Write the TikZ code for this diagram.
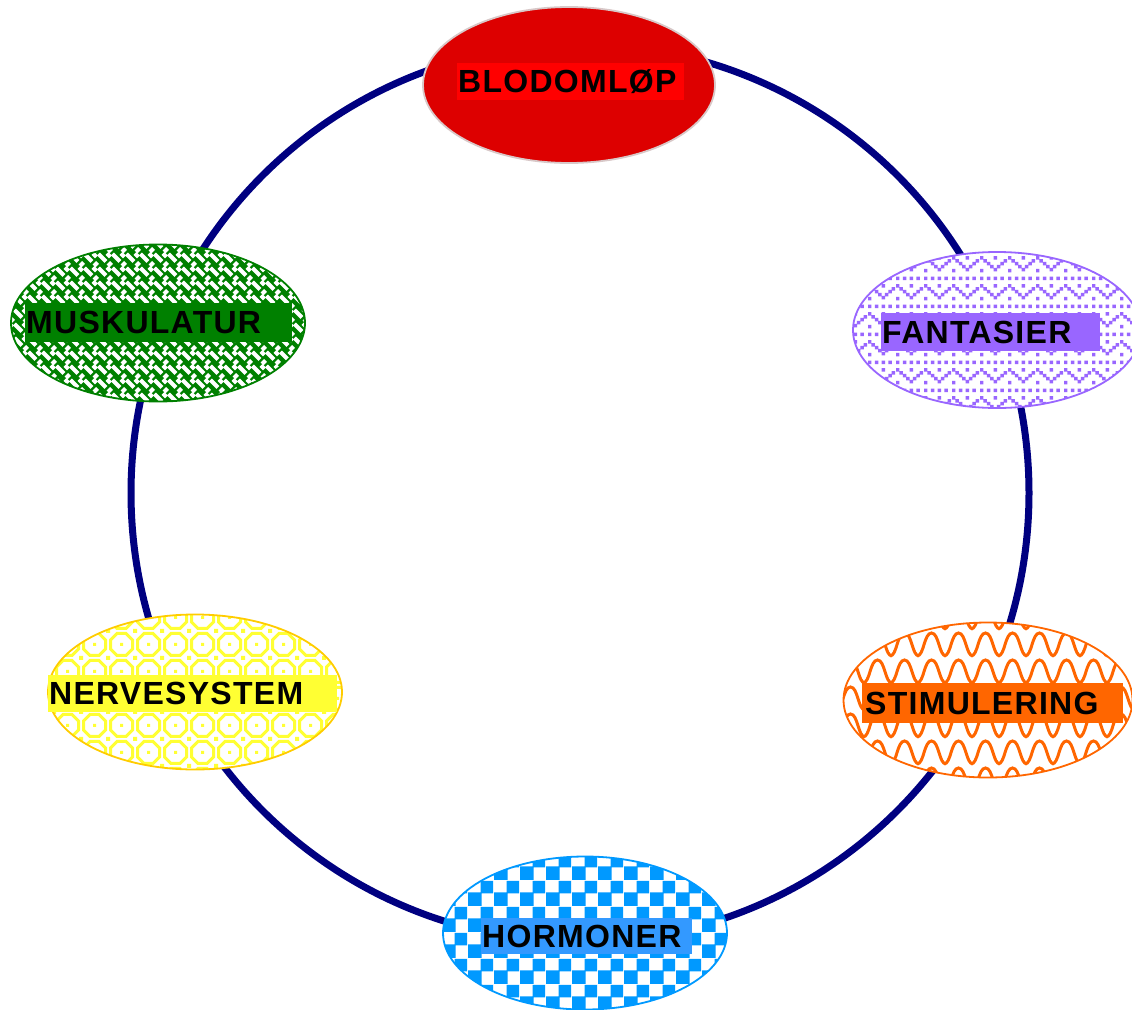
\documentclass[tikz,border=0pt]{standalone}
\usepackage{fontspec}
\setmainfont{Liberation Sans}
\usetikzlibrary{shapes.geometric,patterns}

\definecolor{navyring}{HTML}{000080}
\definecolor{bloodred}{HTML}{DD0000}
\definecolor{bloodlab}{HTML}{FF0000}
\definecolor{bloodedge}{HTML}{D8C8C8}
\definecolor{muskgreen}{HTML}{008000}
\definecolor{fantpurple}{HTML}{9966FF}
\definecolor{nervyellow}{HTML}{FFFF33}
\definecolor{nervedge}{HTML}{FFCC00}
\definecolor{stimorange}{HTML}{FF6600}
\definecolor{hormblue}{HTML}{0099FF}
\definecolor{hormlab}{HTML}{3399FF}

% weave (white bars on green)
\pgfdeclarepatternformonly{myweave}{\pgfqpoint{-1pt}{-1pt}}{\pgfqpoint{15pt}{15pt}}{\pgfqpoint{14pt}{14pt}}{%
  \pgfsetlinewidth{4pt}%
  \pgfsetbuttcap
  \pgfpathmoveto{\pgfqpoint{0.5pt}{13pt}}\pgfpathlineto{\pgfqpoint{8pt}{5.5pt}}%
  \pgfpathmoveto{\pgfqpoint{9pt}{13.5pt}}\pgfpathlineto{\pgfqpoint{12.5pt}{10pt}}%
  \pgfpathmoveto{\pgfqpoint{10pt}{1pt}}\pgfpathlineto{\pgfqpoint{13.5pt}{4.5pt}}%
  \pgfusepath{stroke}}

% dotted zigzag (purple)
\pgfdeclarepatternformonly{myzigdots}{\pgfqpoint{0pt}{0pt}}{\pgfqpoint{28pt}{28pt}}{\pgfqpoint{28pt}{28pt}}{%
  \foreach \xx in {0,7,14,21}{\pgfpathrectangle{\pgfqpoint{\xx pt}{1pt}}{\pgfqpoint{3.6pt}{3.6pt}}}%
  \foreach \xx/\yy in {0/22,3.5/19,7/16,10.5/13,14/10,17.5/13,21/16,24.5/19,14/22,0/9}{\pgfpathrectangle{\pgfqpoint{\xx pt}{\yy pt}}{\pgfqpoint{3.6pt}{3.6pt}}}%
  \pgfusepath{fill}}

% rings (yellow)
\pgfdeclarepatternformonly{myrings}{\pgfqpoint{-2pt}{-2pt}}{\pgfqpoint{29pt}{29pt}}{\pgfqpoint{27pt}{27pt}}{%
  \pgfsetlinewidth{3pt}%
  \pgfpathmoveto{\pgfqpoint{9pt}{2.5pt}}\pgfpathlineto{\pgfqpoint{18pt}{2.5pt}}%
  \pgfpathlineto{\pgfqpoint{24.5pt}{9pt}}\pgfpathlineto{\pgfqpoint{24.5pt}{18pt}}%
  \pgfpathlineto{\pgfqpoint{18pt}{24.5pt}}\pgfpathlineto{\pgfqpoint{9pt}{24.5pt}}%
  \pgfpathlineto{\pgfqpoint{2.5pt}{18pt}}\pgfpathlineto{\pgfqpoint{2.5pt}{9pt}}\pgfpathclose
  \pgfusepath{stroke}%
  \pgfpathrectangle{\pgfqpoint{-2pt}{-2pt}}{\pgfqpoint{4pt}{4pt}}%
  \pgfpathrectangle{\pgfqpoint{12pt}{12pt}}{\pgfqpoint{3pt}{3pt}}%
  \pgfusepath{fill}}

% waves (orange)
\pgfdeclarepatternformonly{mywaves}{\pgfqpoint{-1pt}{-1pt}}{\pgfqpoint{28pt}{28pt}}{\pgfqpoint{27pt}{27pt}}{%
  \pgfsetlinewidth{3pt}%
  \pgfpathmoveto{\pgfqpoint{-1pt}{2pt}}%
  \pgfpathcurveto{\pgfqpoint{6pt}{2pt}}{\pgfqpoint{6pt}{25pt}}{\pgfqpoint{13.5pt}{25pt}}%
  \pgfpathcurveto{\pgfqpoint{21pt}{25pt}}{\pgfqpoint{21pt}{2pt}}{\pgfqpoint{28pt}{2pt}}%
  \pgfusepath{stroke}}

% checker (blue)
\pgfdeclarepatternformonly{mychecker}{\pgfqpoint{0pt}{0pt}}{\pgfqpoint{26pt}{26pt}}{\pgfqpoint{26pt}{26pt}}{%
  \pgfpathrectangle{\pgfqpoint{0pt}{0pt}}{\pgfqpoint{14pt}{14pt}}%
  \pgfpathrectangle{\pgfqpoint{13pt}{13pt}}{\pgfqpoint{13pt}{13pt}}%
  \pgfusepath{fill}}

\tikzset{
  oval/.style={ellipse, inner sep=0pt, line width=1.8pt},
  lab/.style={anchor=north west, inner sep=0pt, inner xsep=1pt, align=left,
    font=\fontsize{32}{32}\selectfont\bfseries\addfontfeature{LetterSpace=4}, text=black},
  ring/.style={draw=navyring, line width=7pt}
}

\begin{document}
\begin{tikzpicture}[x=1pt,y=-1pt]
\useasboundingbox (0,0) rectangle (1132,1009);
\coordinate (c) at (580,493);
\draw[ring] (c) circle [radius=449];

% ellipses
\node[oval, draw=bloodedge, fill=bloodred, minimum width=292pt, minimum height=156pt] (blod) at (569,85) {};
\node[oval, draw=muskgreen, preaction={fill=muskgreen}, pattern=myweave, pattern color=white,
      minimum width=294pt, minimum height=157pt] (musk) at (158,323) {};
\node[oval, draw=fantpurple, preaction={fill=white}, pattern=myzigdots, pattern color=fantpurple,
      minimum width=288pt, minimum height=156pt] (fant) at (997,330) {};
\node[oval, draw=nervedge, preaction={fill=white}, pattern=myrings, pattern color=nervyellow,
      minimum width=294pt, minimum height=155pt] (nerv) at (195,692) {};
\node[oval, draw=stimorange, preaction={fill=white}, pattern=mywaves, pattern color=stimorange,
      minimum width=289pt, minimum height=155pt] (stim) at (988,700) {};
\node[oval, draw=hormblue, preaction={fill=white}, pattern=mychecker, pattern color=hormblue,
      minimum width=284pt, minimum height=153pt] (horm) at (585,933) {};

% labels
\node[lab, fill=bloodlab, text width=225pt, minimum height=37pt] (blodlab) at (457,63) {BLODOMLØP};
\node[lab, fill=muskgreen, text width=265pt, minimum height=39pt] (musklab) at (25,303) {MUSKULATUR};
\node[lab, fill=fantpurple, text width=217pt, minimum height=38pt] (fantlab) at (881,313) {FANTASIER};
\node[lab, fill=nervyellow, text width=287pt, minimum height=37pt] (nervlab) at (48,675) {NERVESYSTEM};
\node[lab, fill=stimorange, text width=255pt, minimum height=40pt, inner xsep=3pt] (stimlab) at (862,683) {STIMULERING};
\node[lab, fill=hormlab, text width=209pt, minimum height=36pt] (hormlab) at (481,918) {HORMONER};
\end{tikzpicture}
\end{document}
